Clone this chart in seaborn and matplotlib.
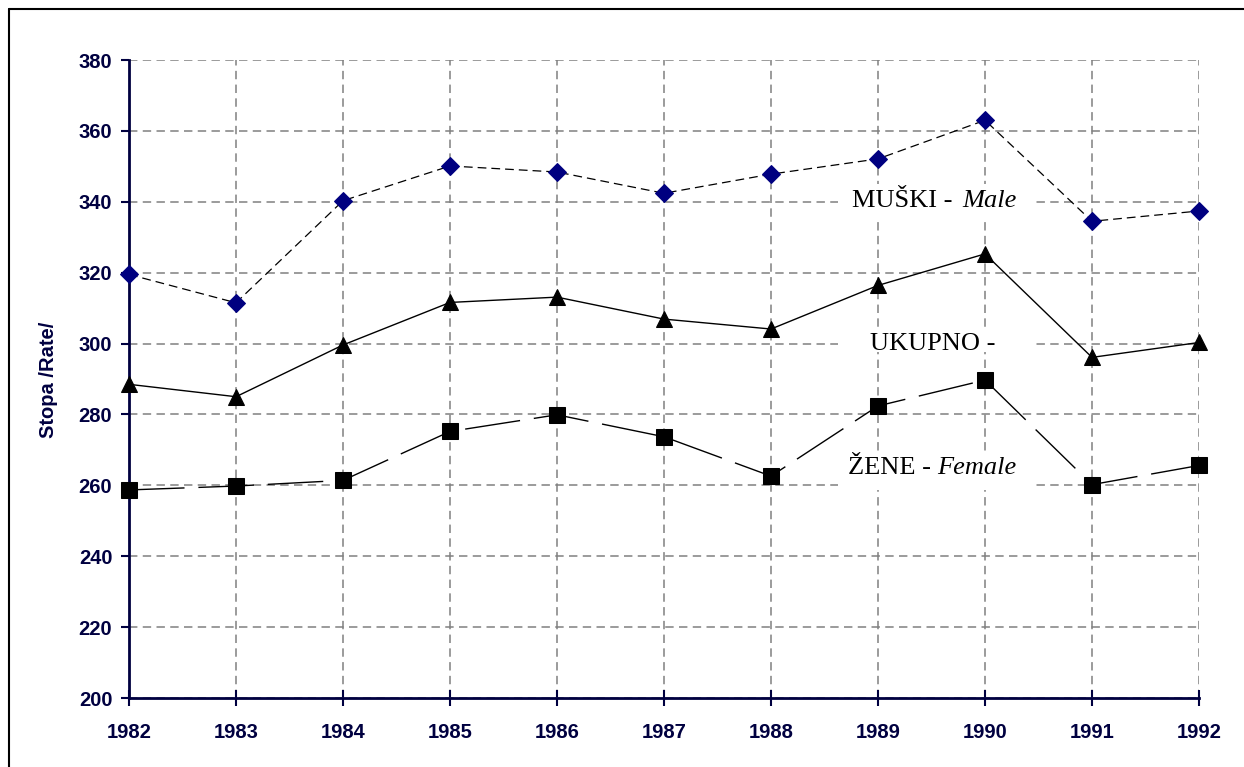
import matplotlib
matplotlib.use("Agg")
import matplotlib.pyplot as plt
import matplotlib.lines as mlines
import matplotlib.patches as mpatches
import seaborn as sns
import pandas as pd

years = [1982, 1983, 1984, 1985, 1986, 1987, 1988, 1989, 1990, 1991, 1992]
male = [319.5, 311.5, 340.3, 350.1, 348.4, 342.4, 347.8, 352.1, 363.0, 334.5, 337.4]
total = [288.5, 285.0, 299.6, 311.6, 313.1, 306.9, 304.1, 316.4, 325.3, 296.1, 300.3]
female = [258.7, 259.8, 261.4, 275.2, 279.9, 273.7, 262.6, 282.4, 289.7, 260.2, 265.6]
y_ticks = [200, 220, 240, 260, 280, 300, 320, 340, 360, 380]

navy = "#000040"
W, H = 1244, 767

sns.set_theme(style="white")
plt.rcParams['font.family'] = ['Liberation Sans', 'DejaVu Sans']

fig = plt.figure(figsize=(W / 100, H / 100), dpi=100)
ax = fig.add_axes([129 / W, 1 - 698 / H, (1199 - 129) / W, (698 - 60) / H])

df = pd.DataFrame({"year": years, "male": male, "total": total, "female": female})

sns.lineplot(data=df, x="year", y="male", ax=ax, color="black", lw=0.9,
             marker="D", markersize=9, markerfacecolor="#000080",
             markeredgecolor="#000080", zorder=5, clip_on=False)
ax.lines[-1].set_dashes((7, 4))
sns.lineplot(data=df, x="year", y="total", ax=ax, color="black", lw=1.0,
             marker="^", markersize=12, markerfacecolor="black",
             markeredgecolor="black", zorder=5, clip_on=False)
sns.lineplot(data=df, x="year", y="female", ax=ax, color="black", lw=1.0,
             marker="s", markersize=11, markerfacecolor="black",
             markeredgecolor="black", zorder=5, clip_on=False)
ax.lines[-1].set_dashes((40, 10))

ax.set_xlim(1982, 1992)
ax.set_ylim(200, 380)
ax.set_xticks(years)
ax.set_xticklabels([str(y) for y in years])
ax.set_yticks(y_ticks)
ax.set_yticklabels([str(v) for v in y_ticks])

ax.grid(True, color="#808080", linestyle=(0, (5.5, 3.5)), linewidth=1.1)
ax.set_axisbelow(True)

for s in ["top", "right"]:
    ax.spines[s].set_visible(False)
for s in ["left", "bottom"]:
    ax.spines[s].set_visible(True)
    ax.spines[s].set_color(navy)
    ax.spines[s].set_linewidth(2)

ax.tick_params(axis="x", direction="inout", length=12, width=1.5, color=navy,
               labelcolor=navy, labelsize=14.5, pad=12, bottom=True)
ax.tick_params(axis="y", direction="out", length=6, width=1.5, color=navy,
               labelcolor=navy, labelsize=14.5, pad=6, left=True)
for lbl in ax.get_xticklabels() + ax.get_yticklabels():
    lbl.set_fontweight("bold")

ax.set_xlabel("")
ax.set_ylabel("")
fig.text(49 / W, 1 - 380 / H, "Stopa /Rate/", rotation=90, ha="center",
         va="center", fontsize=14.5, fontweight="bold", color=navy)

serif = ['Liberation Serif', 'DejaVu Serif']


def label(x_px, y_px, box_top, box_bot, normal, italic=None, gap=8):
    # white box hiding the grid behind the label
    fig.add_artist(mpatches.Rectangle((838 / W, 1 - box_bot / H),
                                      (1035 - 838) / W, (box_bot - box_top) / H,
                                      transform=fig.transFigure, facecolor="white",
                                      edgecolor="none", zorder=8))
    y = 1 - y_px / H
    txt = fig.text(x_px / W, y, normal, ha="left", va="center", fontsize=19,
                   family=serif, color="black", zorder=10)
    if italic:
        fig.canvas.draw()
        bb = txt.get_window_extent()
        fig.text((bb.x1 + gap) / W, y, italic, ha="left", va="center",
                 fontsize=19, family=serif, style="italic", color="black",
                 zorder=10)


label(852, 201, 184, 218, "MUŠKI -", "Male", gap=10)
label(870, 344, 329, 352, "UKUPNO -")
label(848, 468, 451, 490, "ŽENE -", "Female", gap=6)

# figure frame
fig.add_artist(mlines.Line2D([9 / W, 9 / W], [0, 1 - 9 / H],
                             color="black", lw=1.5, transform=fig.transFigure))
fig.add_artist(mlines.Line2D([9 / W, 1], [1 - 9 / H, 1 - 9 / H],
                             color="black", lw=1.5, transform=fig.transFigure))

fig.savefig("out.png", dpi=100)
